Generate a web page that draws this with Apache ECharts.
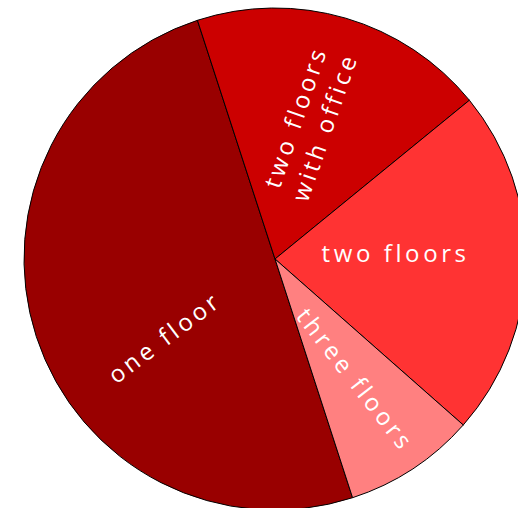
<!DOCTYPE html>
<html>
<head>
<meta charset="utf-8">
<script src="https://cdn.jsdelivr.net/npm/echarts@6/dist/echarts.min.js"></script>
<style>
  html, body { margin: 0; padding: 0; background: #ffffff; }
  #chart { width: 518px; height: 508px; }
  #chart text { letter-spacing: 3.6px; }
</style>
</head>
<body>
<div id="chart"></div>
<script>
// Building types and their share of the total
const categories = ['one floor', 'two floors with office', 'two floors', 'three floors'];
const labelTexts = ['one floor', 'two floors\nwith office', 'two floors', 'three floors'];
const shares = [50, 19.1, 22.4, 8.5];

// Styling
const sliceColors = ['#990000', '#cc0000', '#ff3333', '#ff8080'];
const pieCenter = [275, 259];
const pieRadius = 251;
// first slice starts at 162 degrees clockwise from 12 o'clock
const startAngle = 90 - 162;

// Where each label sits: polar angle (deg, clockwise from 12 o'clock),
// fraction of the radius, and text rotation (deg, counter-clockwise)
const labelPlace = [
  { angle: 235, radius: 0.54, rotate: 37 },
  { angle: 14, radius: 0.564, rotate: 71 },
  { angle: 87, radius: 0.481, rotate: 0 },
  { angle: 146, radius: 0.577, rotate: -52 }
];

const chart = echarts.init(document.getElementById('chart'), null, { renderer: 'svg' });

chart.setOption({
  animation: false,
  series: [{
    type: 'pie',
    center: pieCenter,
    radius: pieRadius,
    startAngle: startAngle,
    clockwise: true,
    avoidLabelOverlap: false,
    data: categories.map((name, i) => ({
      name: name,
      value: shares[i],
      itemStyle: { color: sliceColors[i] },
      label: { formatter: labelTexts[i] }
    })),
    itemStyle: { borderColor: '#000000', borderWidth: 1 },
    emphasis: { disabled: true },
    label: {
      show: true,
      position: 'inside',
      color: '#ffffff',
      fontFamily: 'Open Sans',
      fontSize: 24,
      lineHeight: 31,
      align: 'center'
    },
    labelLine: { show: false },
    labelLayout: function (params) {
      const p = labelPlace[params.dataIndex];
      const a = p.angle * Math.PI / 180;
      const r = p.radius * pieRadius;
      return {
        x: pieCenter[0] + r * Math.sin(a),
        y: pieCenter[1] - r * Math.cos(a),
        rotate: p.rotate,
        align: 'center',
        verticalAlign: 'middle'
      };
    }
  }]
});
</script>
</body>
</html>
